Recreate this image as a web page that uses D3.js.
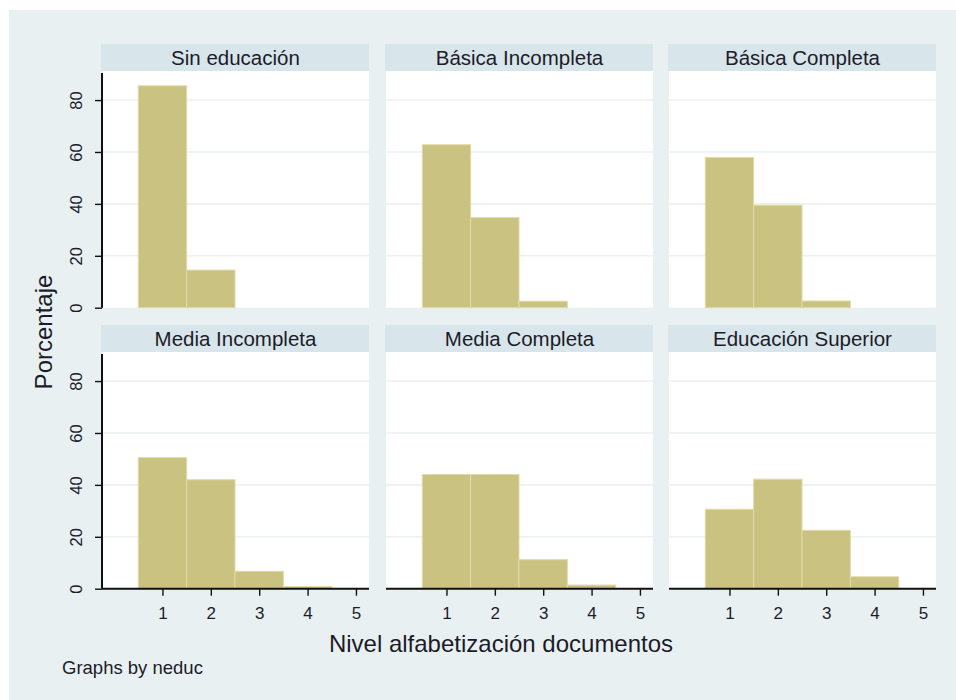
<!DOCTYPE html>
<html><head><meta charset="utf-8">
<script src="https://cdn.jsdelivr.net/npm/d3@7"></script>
<style>body{margin:0;background:#fff}svg{display:block}text{font-family:"Liberation Sans",Arial,sans-serif;fill:#1c1c28}</style>
</head><body>
<script>
const panelTitles = ["Sin educación","Básica Incompleta","Básica Completa","Media Incompleta","Media Completa","Educación Superior"];
const levels = [1,2,3,4,5];
const sinEducacion = [85.5,14.5,0,0,0];
const basicaIncompleta = [62.8,34.7,2.5,0,0];
const basicaCompleta = [57.9,39.5,2.6,0,0];
const mediaIncompleta = [50.5,42.0,6.7,0.8,0];
const mediaCompleta = [44.0,44.0,11.2,1.4,0];
const educacionSuperior = [30.6,42.2,22.5,4.6,0];
const xTicks = [1,2,3,4,5];
const yTicks = [0,20,40,60,80];
const yTitle = "Porcentaje";
const xTitle = "Nivel alfabetización documentos";
const note = "Graphs by neduc";

const series = [sinEducacion,basicaIncompleta,basicaCompleta,mediaIncompleta,mediaCompleta,educacionSuperior];

const W=956,H=700;
const svg=d3.select("body").append("svg").attr("width",W).attr("height",H);
svg.append("rect").attr("x",9).attr("y",10).attr("width",W-9).attr("height",H-10).attr("fill","#e8f0f2");

const colLeft=[102,386,669], pw=267;
const rows=[{top:71,bottom:307.7,stripTop:44},{top:352,bottom:588.7,stripTop:325}];
const stripH=27;

panelTitles.forEach((title,i)=>{
  const r=Math.floor(i/3), c=i%3;
  const L=colLeft[c], R=L+pw, row=rows[r];
  const x=d3.scaleLinear().domain([-0.25,5.27]).range([L,R]);
  const y=d3.scaleLinear().domain([0,91.2]).range([row.bottom,row.top]);
  const g=svg.append("g");
  // strip
  g.append("rect").attr("x",L-1).attr("y",row.stripTop).attr("width",pw+1).attr("height",stripH).attr("fill","#d8e5eb");
  g.append("text").attr("x",(L+R)/2).attr("y",row.stripTop+stripH/2).attr("dy","0.36em")
    .attr("text-anchor","middle").style("font-size","20.5px").text(title);
  // plot bg
  g.append("rect").attr("x",L).attr("y",row.top).attr("width",pw).attr("height",row.bottom-row.top).attr("fill","#fff");
  // gridlines
  g.selectAll("line.grid").data(yTicks.filter(t=>t>0)).enter().append("line")
    .attr("x1",L).attr("x2",R).attr("y1",d=>y(d)).attr("y2",d=>y(d))
    .attr("stroke","#eaf2f3").attr("stroke-width",1.6);
  // bars
  const vals=series[i];
  g.selectAll("rect.bar").data(levels.map((l,k)=>({l,v:vals[k]})).filter(d=>d.v>0)).enter().append("rect")
    .attr("x",d=>x(d.l-0.5)).attr("width",d=>x(d.l+0.5)-x(d.l-0.5))
    .attr("y",d=>y(d.v)).attr("height",d=>y(0)-y(d.v))
    .attr("fill","#cac280").attr("stroke","#e2dba8").attr("stroke-width",1);
  // y axis
  if(c===0){
    const ya=g.append("g").attr("transform",`translate(${L},0)`)
      .call(d3.axisLeft(y).tickValues(yTicks).tickSize(7).tickPadding(0).tickFormat(d3.format("d")));
    ya.select(".domain").attr("stroke","#111").attr("stroke-width",2).attr("d",`M0,${row.top+2}V${row.bottom}`);
    ya.selectAll(".tick line").attr("stroke","#111").attr("stroke-width",1.4);
    ya.selectAll(".tick text").attr("x",null).attr("dy",null).attr("text-anchor","middle")
      .attr("transform","translate(-26,0) rotate(-90)").attr("dy","0.36em")
      .style("font-size","16.5px").attr("fill","#1c1c28");
  }
  // x axis
  if(r===1){
    const xa=g.append("g").attr("transform",`translate(0,${row.bottom})`)
      .call(d3.axisBottom(x).tickValues(xTicks).tickSize(7).tickPadding(11).tickFormat(d3.format("d")));
    xa.select(".domain").attr("stroke","#111").attr("stroke-width",2).attr("d",`M${L},0H${R}`);
    xa.selectAll(".tick line").attr("stroke","#111").attr("stroke-width",1.4);
    xa.selectAll(".tick text").style("font-size","17px").attr("fill","#1c1c28");
  }
});

svg.append("text").attr("transform","translate(43,332) rotate(-90)").attr("dy","0.36em")
  .attr("text-anchor","middle").style("font-size","24px").text(yTitle);
svg.append("text").attr("x",501).attr("y",643).attr("dy","0.36em")
  .attr("text-anchor","middle").style("font-size","24px").text(xTitle);
svg.append("text").attr("x",62).attr("y",667).attr("dy","0.36em")
  .style("font-size","18.5px").text(note);
</script>
</body></html>
